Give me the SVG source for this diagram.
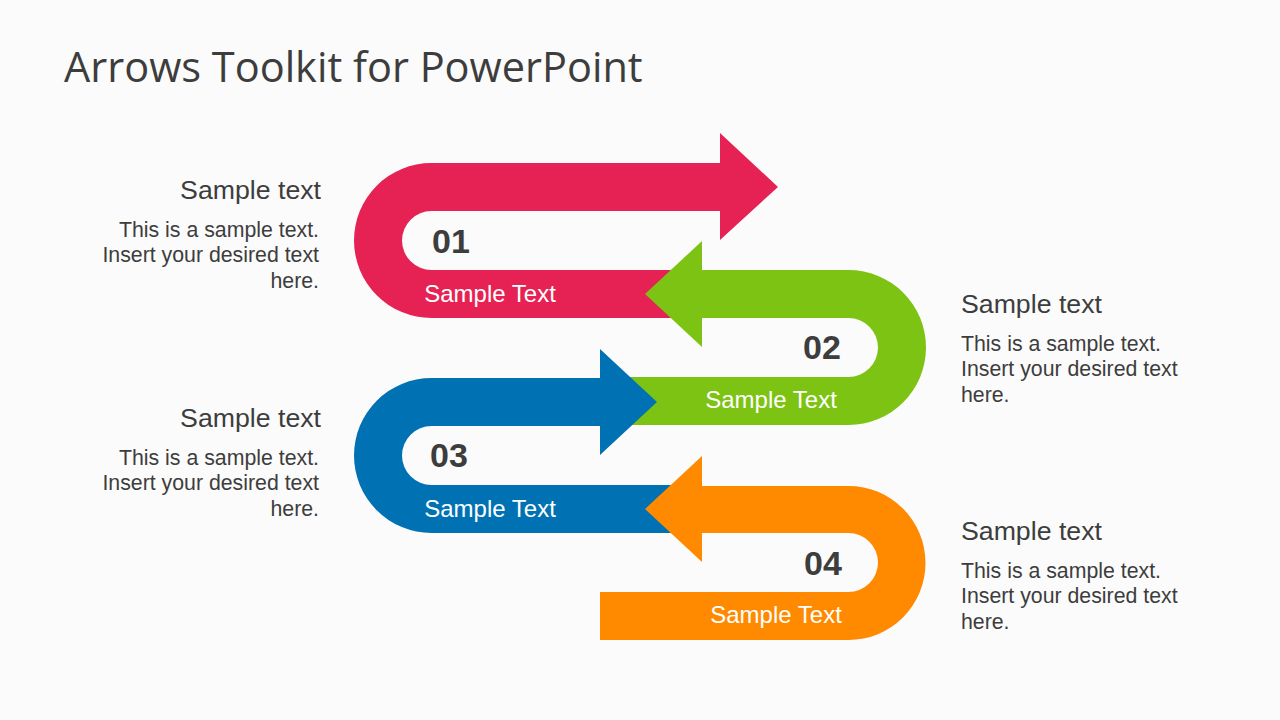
<svg xmlns="http://www.w3.org/2000/svg" width="1280" height="720" viewBox="0 0 1280 720">
<style>
text{font-family:"Open Sans","Liberation Sans",sans-serif;fill:#3d3d3d}
.t{font-size:41.5px}
.n{font-size:34px;font-weight:bold;font-family:"Liberation Sans",sans-serif}
.w{font-size:24px;fill:#fff;text-anchor:middle;font-family:"Liberation Sans",sans-serif}
.h{font-size:26.7px;font-family:"Liberation Sans",sans-serif}
.b{font-size:21.3px;font-family:"Liberation Sans",sans-serif}
.r{text-anchor:end}
</style>
<rect width="1280" height="720" fill="#fbfbfb"/>
<text class="t" x="64" y="82">Arrows Toolkit for PowerPoint</text>
<g id="connectors"></g>
<g id="arrow1">
<path fill="#e52253" d="M778,187 L720,133 L720,163 L431.5,163 A77.5,77.5 0 0 0 431.5,318 L680,318 L680,270 L431.5,270 A29.5,29.5 0 0 1 431.5,211 L720,211 L720,240 Z"/>
<text class="n" x="432" y="253">01</text>
<text class="w" x="490" y="302">Sample Text</text>
</g>
<g id="arrow2">
<path fill="#7dc314" d="M645,294 L702,241 L702,270 L848.5,270 A77.5,77.5 0 0 1 848.5,425 L630,425 L630,377 L848.5,377 A29.5,29.5 0 0 0 848.5,318 L702,318 L702,347 Z"/>
<text class="n" x="803" y="359">02</text>
<text class="w" x="771" y="408">Sample Text</text>
</g>
<g id="arrow3">
<path fill="#0072b4" d="M657,402 L600,349 L600,378 L431.5,378 A77.5,77.5 0 0 0 431.5,533 L680,533 L680,485 L431.5,485 A29.5,29.5 0 0 1 431.5,426 L600,426 L600,455 Z"/>
<text class="n" x="430" y="467">03</text>
<text class="w" x="490" y="517">Sample Text</text>
</g>
<g id="arrow4">
<path fill="#ff8a00" d="M645,509 L702,456 L702,486 L848.5,486 A77,77 0 0 1 848.5,640 L600,640 L600,592 L848.5,592 A29.5,29.5 0 0 0 848.5,533 L702,533 L702,562 Z"/>
<text class="n" x="804" y="575">04</text>
<text class="w" x="776" y="623">Sample Text</text>
</g>
<g id="desc1">
<text class="h r" x="321" y="199">Sample text</text>
<text class="b r" x="319" y="237">This is a sample text.</text>
<text class="b r" x="319" y="262">Insert your desired text</text>
<text class="b r" x="319" y="288">here.</text>
</g>
<g id="desc2">
<text class="h" x="961" y="313">Sample text</text>
<text class="b" x="961" y="351">This is a sample text.</text>
<text class="b" x="961" y="376">Insert your desired text</text>
<text class="b" x="961" y="402">here.</text>
</g>
<g id="desc3">
<text class="h r" x="321" y="427">Sample text</text>
<text class="b r" x="319" y="465">This is a sample text.</text>
<text class="b r" x="319" y="490">Insert your desired text</text>
<text class="b r" x="319" y="516">here.</text>
</g>
<g id="desc4">
<text class="h" x="961" y="540">Sample text</text>
<text class="b" x="961" y="578">This is a sample text.</text>
<text class="b" x="961" y="603">Insert your desired text</text>
<text class="b" x="961" y="629">here.</text>
</g>
</svg>
